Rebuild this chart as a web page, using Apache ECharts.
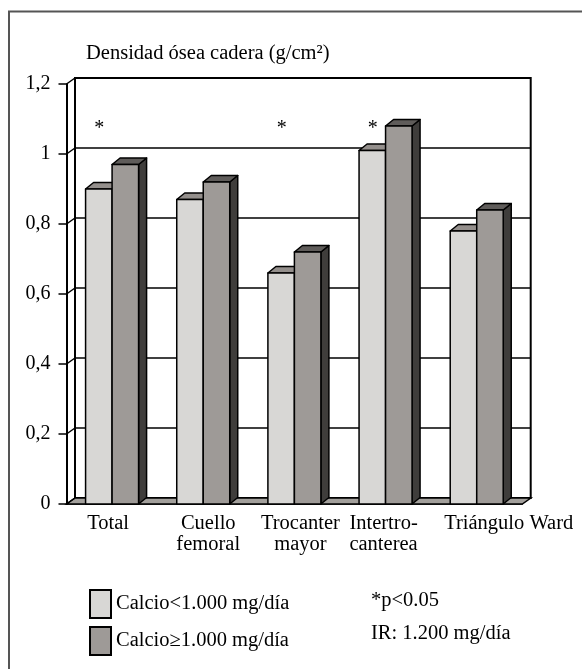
<!DOCTYPE html>
<html>
<head>
<meta charset="utf-8">
<script src="https://cdn.jsdelivr.net/npm/echarts@6/dist/echarts.min.js"></script>
<style>
  html, body { margin: 0; padding: 0; background: #fff; }
  #main { width: 582px; height: 669px; }
</style>
</head>
<body>
<div id="main"></div>
<script>
var categories = ['Total', 'Cuello\nfemoral', 'Trocanter\nmayor', 'Intertro-\ncanterea', 'Triángulo Ward'];
var calcioBajo = [0.90, 0.87, 0.66, 1.01, 0.78];   // Calcio<1.000 mg/día
var calcioAlto = [0.97, 0.92, 0.72, 1.08, 0.84];   // Calcio≥1.000 mg/día
var significancia = ['*', '', '*', '*', ''];
var yTicks = [0, 0.2, 0.4, 0.6, 0.8, 1, 1.2];
var yTickLabels = ['0', '0,2', '0,4', '0,6', '0,8', '1', '1,2'];
var nivelAsterisco = 1.072;

var FONT = 'Liberation Serif';
var DX = 8.5, DY = -6;        // profundidad de las paredes
var BDX = 8, BDY = -6.5;      // profundidad de las barras
var BAR_W = 26.5;

// desplazamiento horizontal de cada etiqueta del eje x
var labelShift = [-4, 5, 6, -2, 32];

function catData() {
	return categories.map(function(c, i) {
		var s = labelShift[i];
		return {
			value: c,
			textStyle: { padding: s >= 0 ? [0, 0, 0, 2 * s] : [0, -2 * s, 0, 0] }
		};
	});
}

function barRender(side, colors) {
	return function(params, api) {
		var idx = api.value(0);
		var top = api.coord([idx, api.value(1)]);
		var base = api.coord([idx, 0]);
		var x0 = side < 0 ? base[0] - BAR_W : base[0];
		var x1 = x0 + BAR_W;
		var yt = top[1], yb = base[1];
		var line = { stroke: '#000', lineWidth: 1.5, lineJoin: 'round' };
		var children = [
			{ type: 'polygon', shape: { points: [[x1, yt], [x1 + BDX, yt + BDY], [x1 + BDX, yb + BDY], [x1, yb]] },
			  style: Object.assign({ fill: colors.side }, line) },
			{ type: 'polygon', shape: { points: [[x0, yt], [x0 + BDX, yt + BDY], [x1 + BDX, yt + BDY], [x1, yt]] },
			  style: Object.assign({ fill: colors.top }, line) },
			{ type: 'rect', shape: { x: x0, y: yt, width: BAR_W, height: yb - yt },
			  style: Object.assign({ fill: colors.front }, line) }
		];
		if (side < 0 && significancia[idx]) {
			var p = api.coord([idx, nivelAsterisco]);
			children.push({
				type: 'text',
				style: { text: significancia[idx], x: x0 + BAR_W / 2 + 0.5, y: p[1], align: 'center',
				         verticalAlign: 'middle', font: '20px "' + FONT + '"', fill: '#000' }
			});
		}
		return { type: 'group', children: children };
	};
}

function wallRender(params, api) {
	var cs = params.coordSys;
	var v = api.value(0);
	var y = api.coord([0, v])[1];
	var children = [];
	if (v === 0) {
		children.push({
			type: 'polygon',
			shape: { points: [[cs.x, y], [cs.x + cs.width, y], [cs.x + cs.width + DX, y + DY], [cs.x + DX, y + DY]] },
			style: { fill: '#a3a09c', stroke: '#000', lineWidth: 1.5 }
		});
	}
	children.push({
		type: 'line',
		shape: { x1: cs.x, y1: y, x2: cs.x + DX, y2: y + DY },
		style: { stroke: '#000', lineWidth: 1.5 }
	});
	return { type: 'group', children: children };
}

var myChart = echarts.init(document.getElementById('main'));
var option = {
	animation: false,
	backgroundColor: '#fff',
	title: {
		text: 'Densidad ósea cadera (g/cm²)',
		left: 81,
		top: 38,
		textStyle: { fontFamily: FONT, fontSize: 20.5, fontWeight: 'normal', color: '#000' }
	},
	legend: {
		orient: 'vertical',
		left: 84,
		top: 584,
		itemWidth: 21,
		itemHeight: 28,
		itemGap: 7,
		icon: 'rect',
		selectedMode: false,
		itemStyle: { borderColor: '#000', borderWidth: 2 },
		textStyle: { fontFamily: FONT, fontSize: 20.5, color: '#000' },
		data: ['Calcio<1.000 mg/día', 'Calcio≥1.000 mg/día']
	},
	grid: [
		{ left: 66.5, right: 59.7, top: 84, bottom: 165 },
		{ left: 75, right: 51.3, top: 78, bottom: 171, show: true, borderColor: '#000', borderWidth: 2, backgroundColor: 'transparent' }
	],
	xAxis: [
		{
			type: 'category', gridIndex: 0, data: catData(),
			axisLine: { lineStyle: { color: '#000', width: 1.5 } },
			axisTick: { length: 7, lineStyle: { color: '#000', width: 1.5 } },
			axisLabel: { fontFamily: FONT, fontSize: 20.5, color: '#000', margin: 9, lineHeight: 21, interval: 0 }
		},
		{ type: 'category', gridIndex: 1, data: categories, show: false }
	],
	yAxis: [
		{
			type: 'value', gridIndex: 0, min: 0, max: 1.2, interval: 0.2,
			axisLine: { show: true, lineStyle: { color: '#000', width: 2 } },
			axisTick: { show: true, length: 8, lineStyle: { color: '#000', width: 1.5 } },
			splitLine: { show: false },
			axisLabel: {
				fontFamily: FONT, fontSize: 20, color: '#000', margin: 16, padding: [4, 0, 0, 0],
				formatter: function(v) { return yTickLabels[yTicks.indexOf(Math.round(v * 10) / 10)]; }
			}
		},
		{
			type: 'value', gridIndex: 1, min: 0, max: 1.2, interval: 0.2,
			axisLine: { show: false }, axisTick: { show: false }, axisLabel: { show: false },
			splitLine: { show: true, lineStyle: { color: '#000', width: 1.5 } }
		}
	],
	series: [
		{
			type: 'custom', name: 'paredes', xAxisIndex: 0, yAxisIndex: 0, z: 1, silent: true,
			renderItem: wallRender,
			data: yTicks.map(function(v) { return [v]; }),
			encode: { y: 0 }
		},
		{
			type: 'custom', name: 'Calcio<1.000 mg/día', xAxisIndex: 0, yAxisIndex: 0, z: 3,
			itemStyle: { color: '#d8d7d5' },
			renderItem: barRender(-1, { front: '#d8d7d5', top: '#948f8c', side: '#6e6b69' }),
			data: calcioBajo.map(function(v, i) { return [i, v]; }),
			encode: { x: 0, y: 1 }
		},
		{
			type: 'custom', name: 'Calcio≥1.000 mg/día', xAxisIndex: 0, yAxisIndex: 0, z: 3,
			itemStyle: { color: '#9e9a97' },
			renderItem: barRender(1, { front: '#9e9a97', top: '#5f5c5a', side: '#3f3d3b' }),
			data: calcioAlto.map(function(v, i) { return [i, v]; }),
			encode: { x: 0, y: 1 }
		}
	],
	graphic: [
		{ type: 'rect', shape: { x: 9, y: 11.5, width: 700, height: 800 }, style: { fill: 'none', stroke: '#555', lineWidth: 2 }, z: 10 },
		{ type: 'text', left: 371, top: 590, style: { text: '*p<0.05', font: '20.5px "' + FONT + '"', fill: '#000' } },
		{ type: 'text', left: 371, top: 623, style: { text: 'IR: 1.200 mg/día', font: '20.5px "' + FONT + '"', fill: '#000' } }
	]
};
myChart.setOption(option);
</script>
</body>
</html>
